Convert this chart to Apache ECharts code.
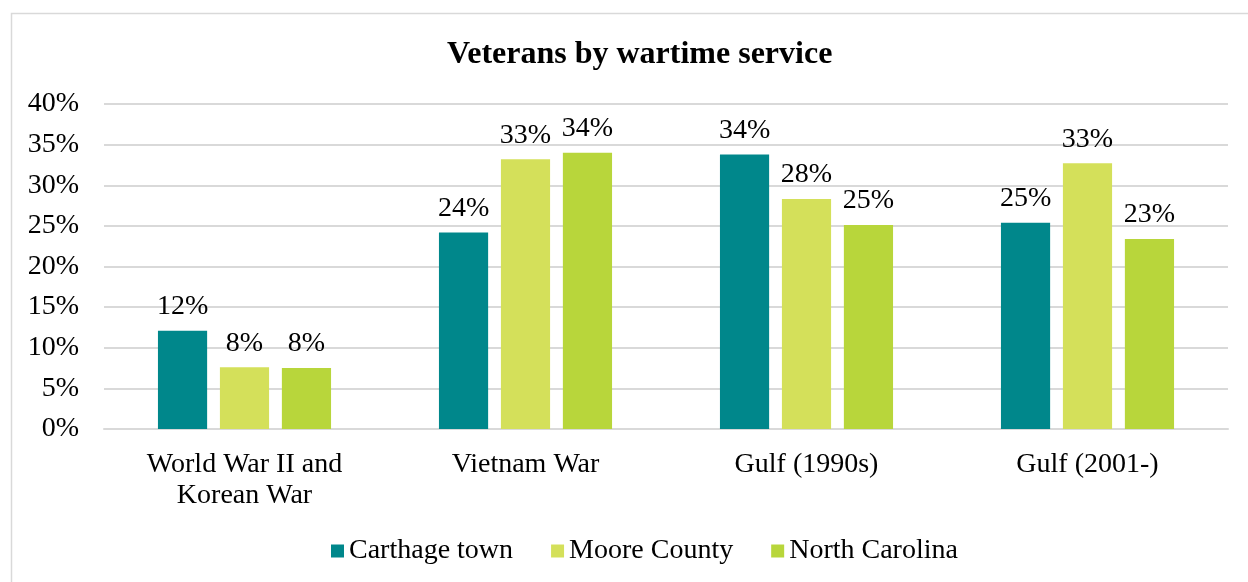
<!DOCTYPE html>
<html>
<head>
<meta charset="utf-8">
<script src="https://cdn.jsdelivr.net/npm/echarts@6/dist/echarts.min.js"></script>
<style>html,body{margin:0;padding:0;background:#fff;}#c{width:1248px;height:582px;}</style>
</head>
<body>
<div id="c"></div>
<script>
const categories = ['World War II and\nKorean War', 'Vietnam War', 'Gulf (1990s)', 'Gulf (2001-)'];
const carthage = [12.1, 24.2, 33.8, 25.4];
const moore = [7.6, 33.2, 28.3, 32.7];
const northCarolina = [7.5, 34.0, 25.1, 23.4];
const yTicks = [0, 5, 10, 15, 20, 25, 30, 35, 40];

const font = 'Liberation Serif, Times New Roman, serif';
const chart = echarts.init(document.getElementById('c'));
const lbl = {
  show: true, position: 'top', distance: 10,
  formatter: p => Math.round(p.value) + '%',
  fontFamily: font, fontSize: 28, color: '#000'
};
function ser(name, data, color) {
  return {
    name, type: 'bar', data, barGap: '26%', barCategoryGap: '38.4%',
    itemStyle: { color }, label: lbl
  };
}
chart.setOption({
  animation: false,
  graphic: [{
    type: 'rect', shape: { x: 11.5, y: 13.5, width: 1240, height: 580 },
    style: { fill: 'none', stroke: '#D9D9D9', lineWidth: 1.5 }, silent: true
  }],
  title: {
    text: 'Veterans by wartime service', left: 442, top: 34,
    textStyle: { fontFamily: font, fontSize: 32, fontWeight: 'bold', color: '#000' }
  },
  legend: {
    bottom: 12, left: 326, itemWidth: 13, itemHeight: 13, itemGap: 38,
    icon: 'rect',
    textStyle: { fontFamily: font, fontSize: 28, color: '#000' },
    data: ['Carthage town', 'Moore County', 'North Carolina']
  },
  grid: { left: 104, right: 20, top: 104, bottom: 153, containLabel: false },
  xAxis: {
    type: 'category', data: categories,
    axisLine: { lineStyle: { color: '#D9D9D9', width: 2 } },
    axisTick: { show: false },
    axisLabel: { fontFamily: font, fontSize: 28, color: '#000', margin: 20, lineHeight: 31 }
  },
  yAxis: {
    type: 'value', min: yTicks[0], max: yTicks[yTicks.length - 1], interval: 5,
    axisLine: { show: false }, axisTick: { show: false },
    splitLine: { lineStyle: { color: '#D9D9D9', width: 2 } },
    axisLabel: { fontFamily: font, fontSize: 28, color: '#000', margin: 25, formatter: v => v + '%' }
  },
  series: [
    ser('Carthage town', carthage, '#00878B'),
    ser('Moore County', moore, '#D4E05A'),
    ser('North Carolina', northCarolina, '#B8D63B')
  ]
});
</script>
</body>
</html>
